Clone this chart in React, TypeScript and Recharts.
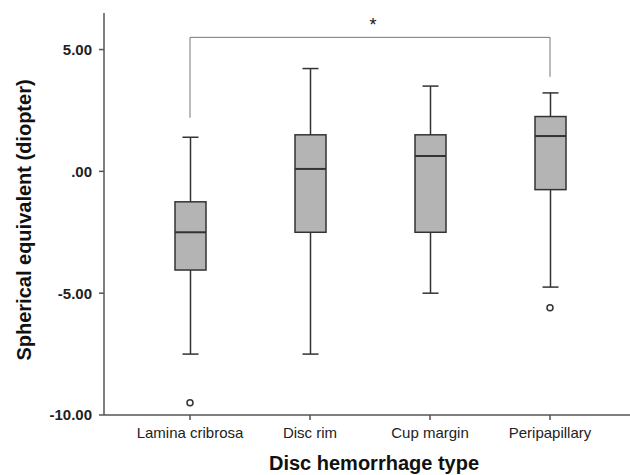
import React from 'react';
import {
  ComposedChart,
  Bar,
  Line,
  XAxis,
  YAxis,
  ReferenceLine,
  Label,
} from 'recharts';

const categories = ['Lamina cribrosa', 'Disc rim', 'Cup margin', 'Peripapillary'];
const whiskerLow = [-7.5, -7.5, -5.0, -4.75];
const q1 = [-4.05, -2.5, -2.5, -0.75];
const median = [-2.5, 0.1, 0.63, 1.45];
const q3 = [-1.25, 1.5, 1.5, 2.25];
const whiskerHigh = [1.4, 4.22, 3.5, 3.22];
const outliers: (number | null)[] = [-9.5, null, null, -5.6];
const yTicks = [-10, -5, 0, 5];

const data = categories.map((name, i) => ({
  name,
  low: whiskerLow[i],
  q1: q1[i],
  median: median[i],
  q3: q3[i],
  high: whiskerHigh[i],
  outlier: outliers[i],
}));

const BOX_STROKE = '#333';
const BOX_FILL = '#b4b4b4';
const AXIS = '#555';

// draws the whole box from the range bar the library lays out (low..high)
const BoxShape = (props: any) => {
  const { x, y, width, height, payload } = props;
  if (!payload) return null;
  const { low, high } = payload;
  const py = (v: number) => y + ((high - v) / (high - low)) * height;
  const cx = x + width / 2;
  const cap = 8;
  return (
    <g>
      <line x1={cx} x2={cx} y1={py(high)} y2={py(payload.q3)} stroke={BOX_STROKE} strokeWidth={1.5} />
      <line x1={cx} x2={cx} y1={py(payload.q1)} y2={py(low)} stroke={BOX_STROKE} strokeWidth={1.5} />
      <line x1={cx - cap} x2={cx + cap} y1={py(high)} y2={py(high)} stroke={BOX_STROKE} strokeWidth={1.5} />
      <line x1={cx - cap} x2={cx + cap} y1={py(low)} y2={py(low)} stroke={BOX_STROKE} strokeWidth={1.5} />
      <rect
        x={x}
        y={py(payload.q3)}
        width={width}
        height={py(payload.q1) - py(payload.q3)}
        fill={BOX_FILL}
        stroke={BOX_STROKE}
        strokeWidth={1.5}
      />
      <line x1={x} x2={x + width} y1={py(payload.median)} y2={py(payload.median)} stroke={BOX_STROKE} strokeWidth={2} />
    </g>
  );
};

const OutlierDot = (props: any) => {
  const { cx, cy, value } = props;
  if (value == null || cx == null || cy == null) return <g />;
  return <circle cx={cx} cy={cy} r={3} fill="#fff" stroke={BOX_STROKE} strokeWidth={1.5} />;
};

const fmt = (v: number) => (v === 0 ? '.00' : v.toFixed(2));

export default function App() {
  return (
    <div style={{ position: 'absolute', left: 0, top: 0, fontFamily: 'Arial, "Liberation Sans", sans-serif' }}>
      <ComposedChart
        width={630}
        height={475}
        data={data}
        margin={{ top: 13, right: 0, bottom: 0, left: 0 }}
      >
        <XAxis
          dataKey="name"
          height={60}
          padding={{ left: 26, right: 20 }}
          stroke={AXIS}
          strokeWidth={1.5}
          tickSize={5}
          tickMargin={7}
          tick={{ fill: '#222', fontSize: 15 }}
        >
          <Label
            content={({ viewBox }: any) => (
              <text
                x={374}
                y={viewBox.y + 55}
                textAnchor="middle"
                style={{ fontSize: 20, fontWeight: 'bold', fill: '#111' }}
              >
                Disc hemorrhage type
              </text>
            )}
          />
        </XAxis>
        <YAxis
          width={104}
          domain={[-10, 6.5]}
          ticks={yTicks}
          allowDataOverflow
          stroke={AXIS}
          strokeWidth={1.5}
          tickSize={5}
          tickMargin={7}
          tickFormatter={fmt}
          tick={{ fill: '#222', fontSize: 15, fontWeight: 'bold' }}
        >
          <Label
            content={({ viewBox }: any) => {
              const cx = 24;
              const cy = viewBox.y + viewBox.height / 2 + 6;
              return (
                <text
                  x={cx}
                  y={cy}
                  transform={`rotate(-90, ${cx}, ${cy})`}
                  textAnchor="middle"
                  dominantBaseline="central"
                  style={{ fontSize: 20, fontWeight: 'bold', fill: '#111' }}
                >
                  Spherical equivalent (diopter)
                </text>
              );
            }}
          />
        </YAxis>
        <ReferenceLine
          segment={[{ x: categories[0], y: 5.5 }, { x: categories[3], y: 5.5 }]}
          stroke="#777"
          strokeWidth={1}
          ifOverflow="visible"
        >
          <Label value="*" position="top" offset={6} dx={3} style={{ fontSize: 18, fill: '#111' }} />
        </ReferenceLine>
        <ReferenceLine
          segment={[{ x: categories[0], y: 5.5 }, { x: categories[0], y: 2.2 }]}
          stroke="#777"
          strokeWidth={1}
          ifOverflow="visible"
        />
        <ReferenceLine
          segment={[{ x: categories[3], y: 5.5 }, { x: categories[3], y: 3.88 }]}
          stroke="#777"
          strokeWidth={1}
          ifOverflow="visible"
        />
        <Bar
          dataKey={(d: any) => [d.low, d.high]}
          barSize={31}
          shape={<BoxShape />}
          isAnimationActive={false}
        />
        <Line
          dataKey="outlier"
          stroke="none"
          dot={<OutlierDot />}
          activeDot={false}
          isAnimationActive={false}
        />
      </ComposedChart>
    </div>
  );
}
